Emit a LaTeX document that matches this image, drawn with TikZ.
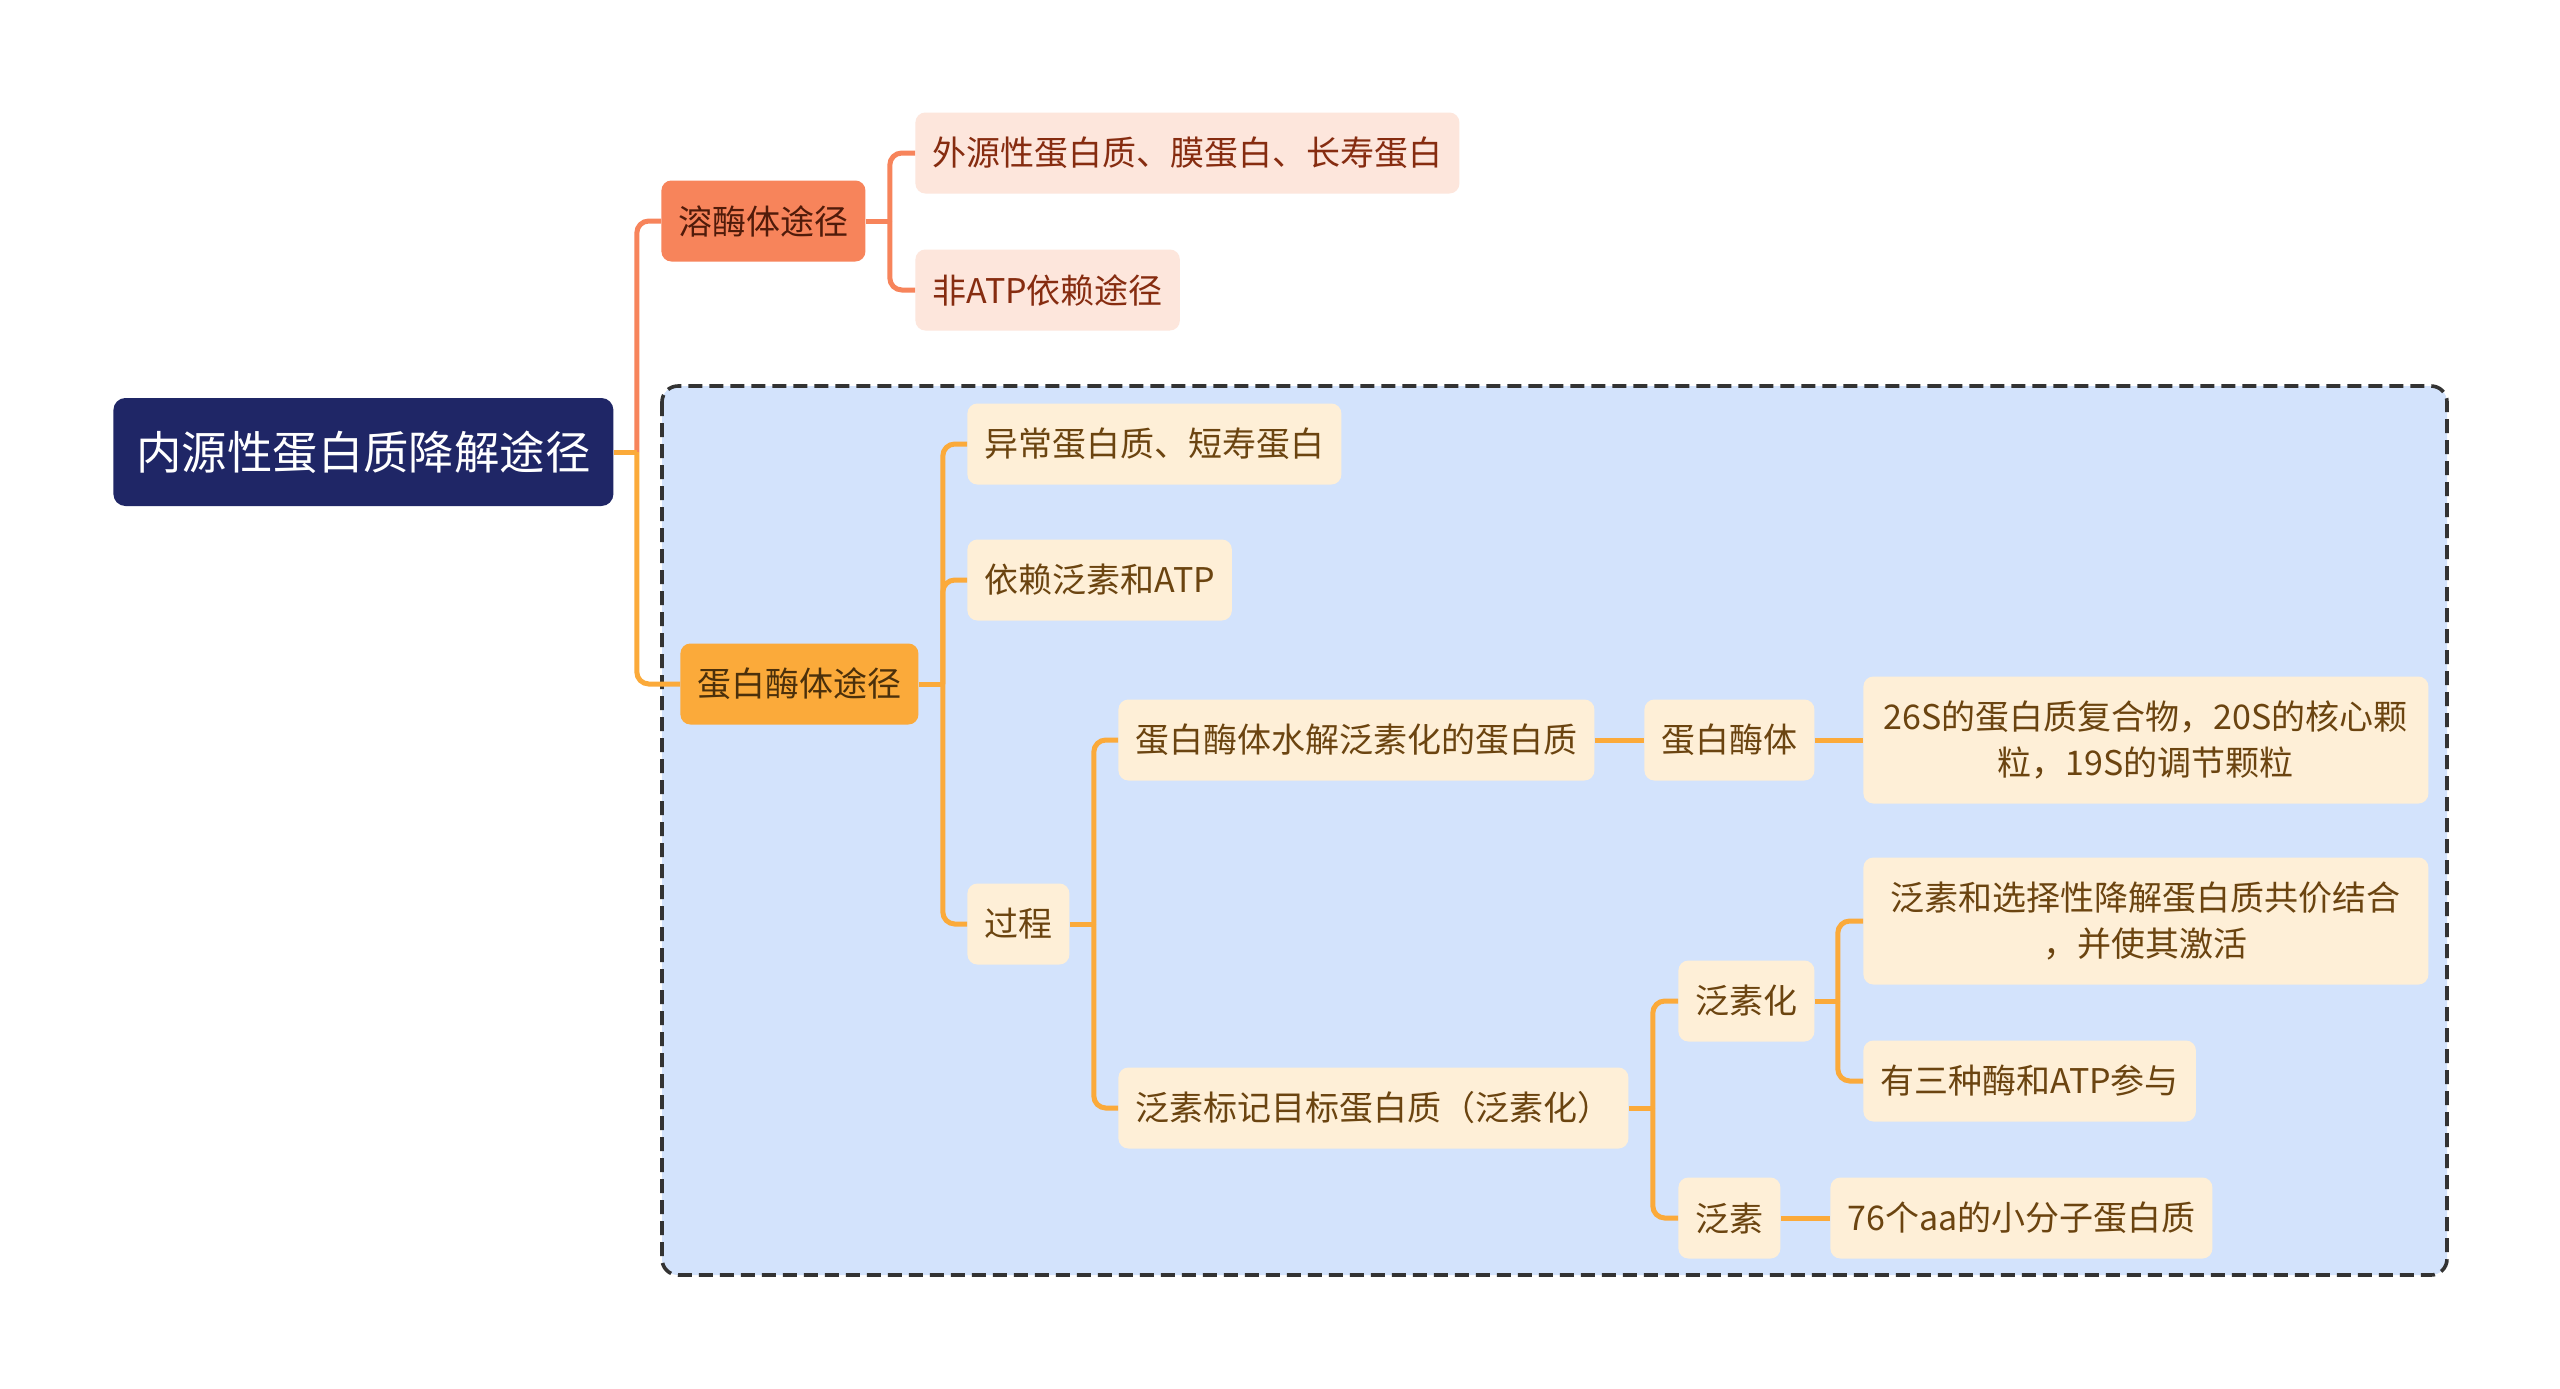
\documentclass[tikz,border=0pt]{standalone}
\usepackage{fontspec}
\newfontfamily\cjk{Noto Sans CJK SC}
\usetikzlibrary{calc, positioning}
\definecolor{mmNavy}{HTML}{1F2666}
\definecolor{mmCoral}{HTML}{F7845B}
\definecolor{mmPink}{HTML}{FDE6DC}
\definecolor{mmRust}{HTML}{862C10}
\definecolor{mmOrange}{HTML}{FBAA3A}
\definecolor{mmCream}{HTML}{FEEFD7}
\definecolor{mmBrown}{HTML}{6B4410}
\definecolor{mmSky}{HTML}{D3E3FC}
\definecolor{mmDash}{HTML}{333333}
\tikzset{
  basebox/.style   = {rectangle, rounded corners=5pt, inner xsep=8.5pt, inner ysep=0pt,
                      minimum height=40.5pt, anchor=west,
                      font=\cjk\fontsize{17pt}{23pt}\selectfont},
  rootbox/.style   = {basebox, fill=mmNavy, text=white, rounded corners=6pt,
                      inner xsep=11.5pt, minimum height=54pt,
                      font=\cjk\fontsize{22.7pt}{28pt}\selectfont},
  lysobox/.style   = {basebox, fill=mmCoral, text=mmRust!60!black},
  lysoleaf/.style  = {basebox, fill=mmPink, text=mmRust},
  protbox/.style   = {basebox, fill=mmOrange, text=mmBrown!70!black},
  protleaf/.style  = {basebox, fill=mmCream, text=mmBrown},
  wideleaf/.style  = {protleaf, text width=265.5pt, align=center, minimum height=63.5pt},
  lysolink/.style  = {mmCoral, line width=2.5pt},
  protlink/.style  = {mmOrange, line width=2.5pt},
  elbow/.style     = {rounded corners=6pt},
  groupbox/.style  = {draw=mmDash, fill=mmSky, line width=1.8pt,
                      dash pattern=on 7pt off 3.5pt, rounded corners=8pt},
}
\begin{document}
\begin{tikzpicture}[x=0.5pt,y=-0.5pt]
  \useasboundingbox (0,0) rectangle (2560,1388);
  \fill[white] (0,0) rectangle (2560,1388);
  \draw[groupbox] (662,386) rectangle (2447,1275);

  \node[rootbox] (root) at (113,452) {内源性蛋白质降解途径};
  \node[lysobox] (lyso) at (661,221) {溶酶体途径};
  \node[lysoleaf] (exo) at (915,153) {外源性蛋白质、膜蛋白、长寿蛋白};
  \node[lysoleaf] (noatp) at (915,290) {非ATP依赖途径};
  \node[protbox] (prot) at (680,684) {蛋白酶体途径};
  \node[protleaf] (abn) at (967,444) {异常蛋白质、短寿蛋白};
  \node[protleaf] (dep) at (967,580) {依赖泛素和ATP};
  \node[protleaf] (proc) at (967,924) {过程};
  \node[protleaf] (hydro) at (1118,740) {蛋白酶体水解泛素化的蛋白质};
  \node[protleaf] (tag) at (1118,1108) {泛素标记目标蛋白质（泛素化）};
  \node[protleaf] (pasome) at (1644,740) {蛋白酶体};
  \node[wideleaf] (sizes) at (1863,740) {26S的蛋白质复合物，20S的核心颗\\粒，19S的调节颗粒};
  \node[protleaf] (ubqn) at (1678,1001) {泛素化};
  \node[wideleaf] (bind) at (1863,921) {泛素和选择性降解蛋白质共价结合\\，并使其激活};
  \node[protleaf] (three) at (1863,1081) {有三种酶和ATP参与};
  \node[protleaf] (ubq) at (1678,1218) {泛素};
  \node[protleaf] (aa76) at (1830,1218) {76个aa的小分子蛋白质};

  % branch points
  \coordinate (rootJ) at ($(root.east)+(23,0)$);
  \coordinate (lysoJ) at ($(lyso.east)+(24,0)$);
  \coordinate (protJ) at ($(prot.east)+(24,0)$);
  \coordinate (procJ) at ($(proc.east)+(24,0)$);
  \coordinate (tagJ) at ($(tag.east)+(24,0)$);
  \coordinate (ubqnJ) at ($(ubqn.east)+(23,0)$);

  \draw[lysolink, elbow] (rootJ) |- (lyso.west);
  \draw[lysolink] (lyso.east) -- (lysoJ);
  \draw[lysolink, elbow] (lysoJ) |- (exo.west);
  \draw[lysolink, elbow] (lysoJ) |- (noatp.west);

  \draw[protlink] (root.east) -- (rootJ);
  \draw[protlink, elbow] (rootJ) |- (prot.west);
  \draw[protlink] (prot.east) -- (protJ);
  \draw[protlink, elbow] (protJ) |- (abn.west);
  \draw[protlink, elbow] (protJ) |- (dep.west);
  \draw[protlink, elbow] (protJ) |- (proc.west);
  \draw[protlink] (proc.east) -- (procJ);
  \draw[protlink, elbow] (procJ) |- (hydro.west);
  \draw[protlink, elbow] (procJ) |- (tag.west);
  \draw[protlink] (hydro.east) -- (pasome.west);
  \draw[protlink] (pasome.east) -- (sizes.west);
  \draw[protlink] (tag.east) -- (tagJ);
  \draw[protlink, elbow] (tagJ) |- (ubqn.west);
  \draw[protlink, elbow] (tagJ) |- (ubq.west);
  \draw[protlink] (ubqn.east) -- (ubqnJ);
  \draw[protlink, elbow] (ubqnJ) |- (bind.west);
  \draw[protlink, elbow] (ubqnJ) |- (three.west);
  \draw[protlink] (ubq.east) -- (aa76.west);
\end{tikzpicture}
\end{document}
